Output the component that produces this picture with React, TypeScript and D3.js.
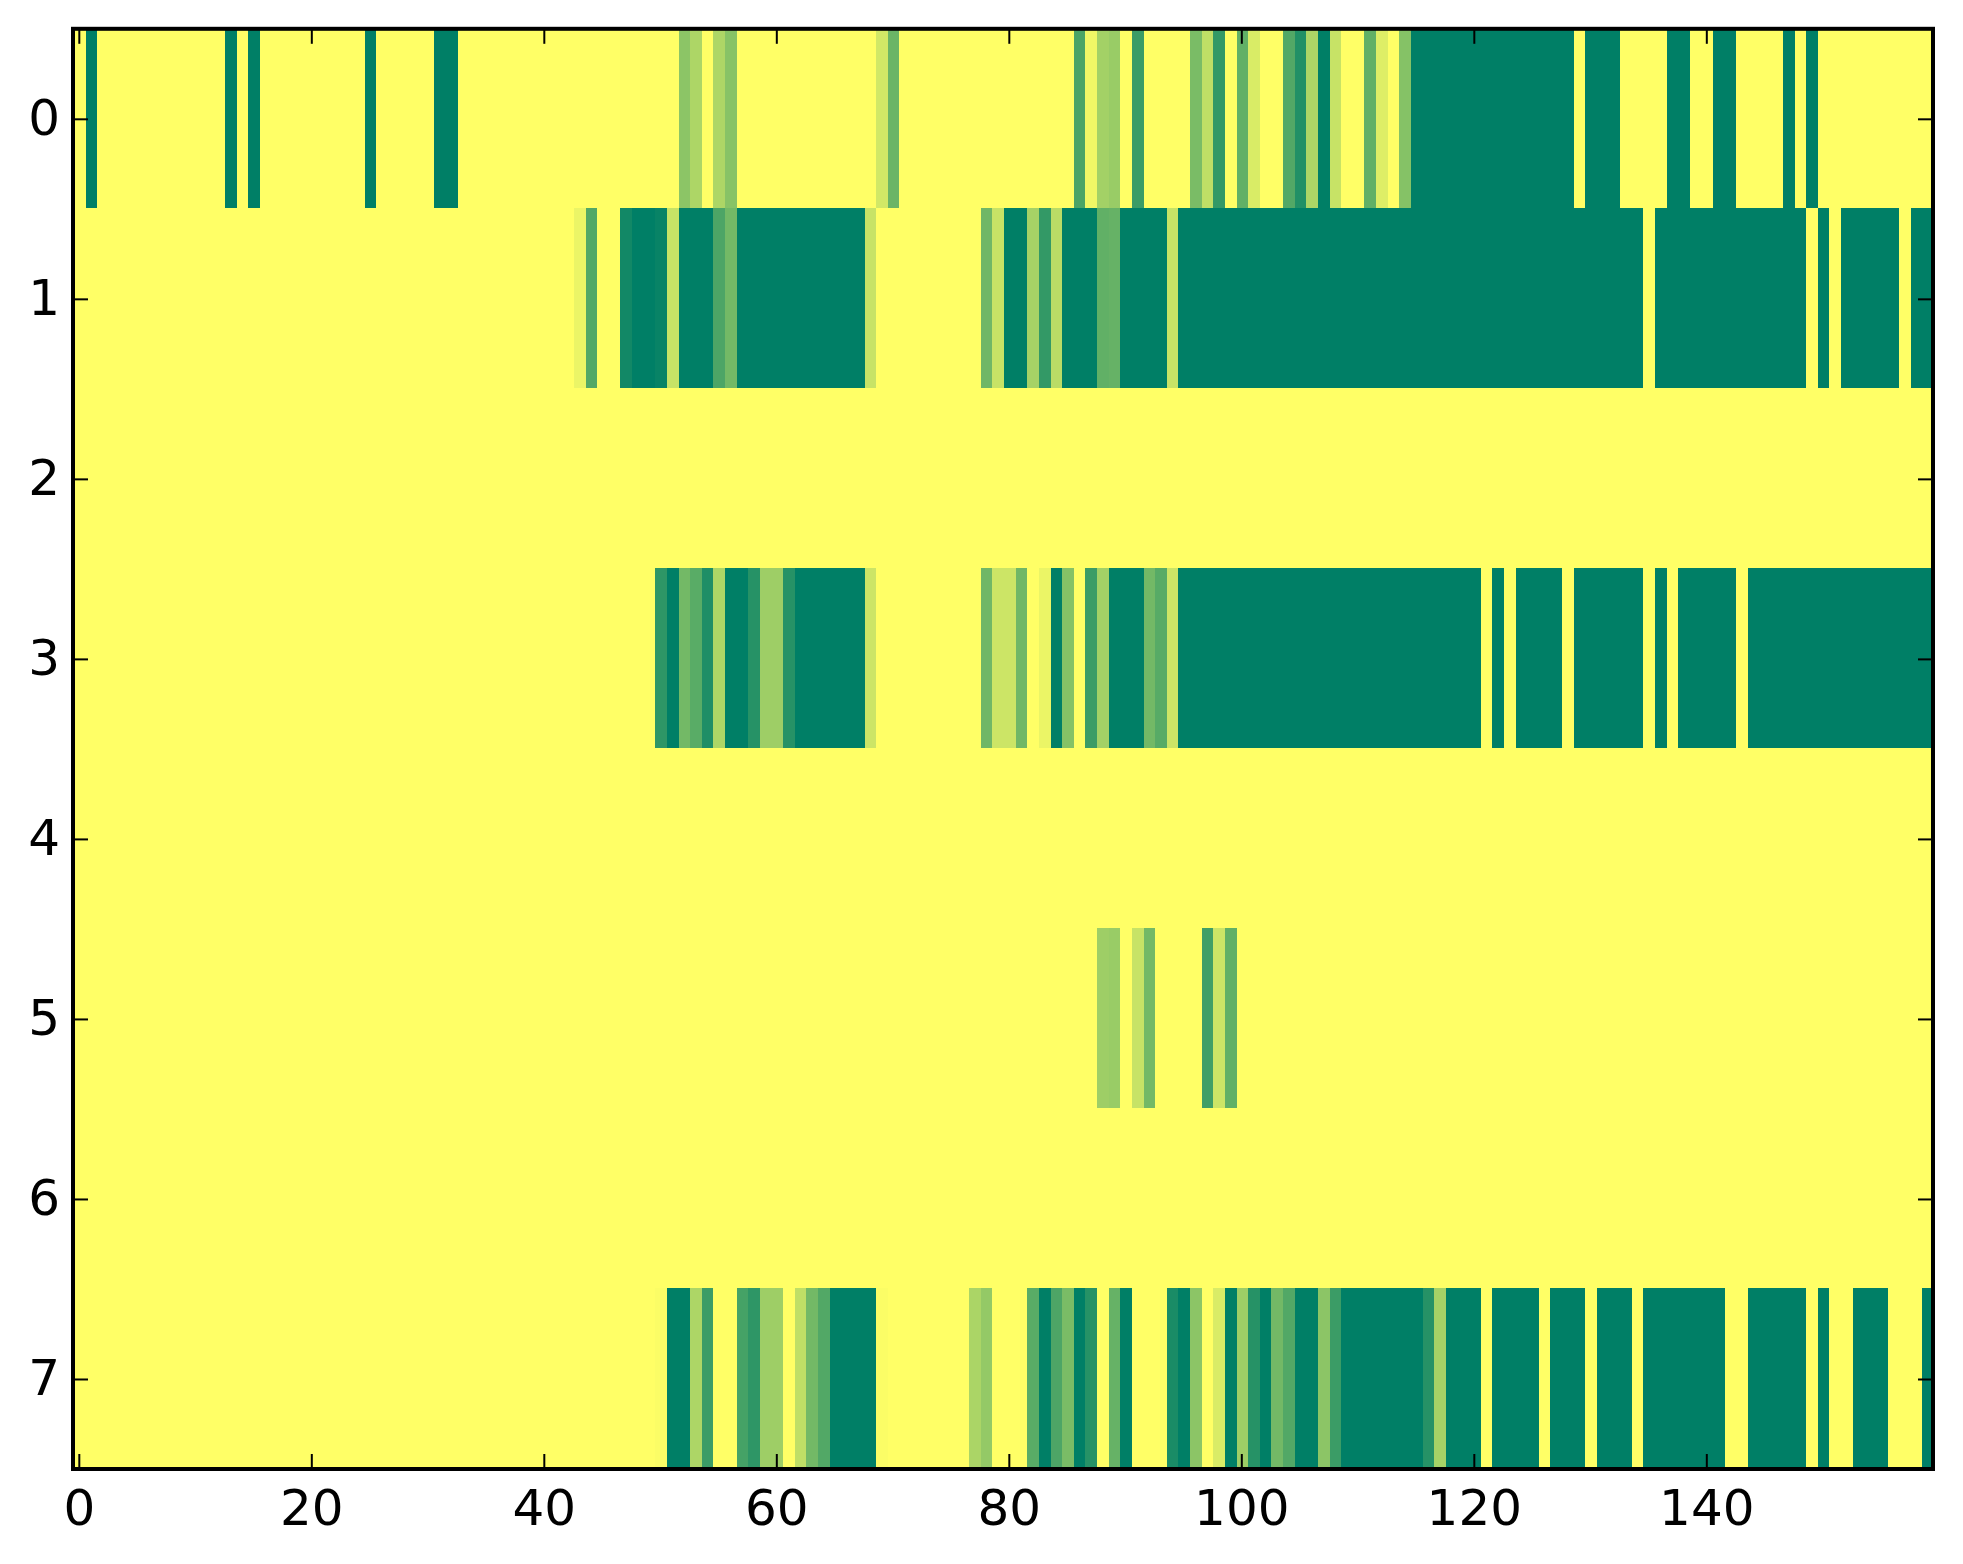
import { useRef, useEffect } from "react";
import * as d3 from "d3";

type Run = [number, number, number]; // first column, last column, value

const xTicks = [0, 20, 40, 60, 80, 100, 120, 140];
const yTicks = [0, 1, 2, 3, 4, 5, 6, 7];
const columnCount = 160;

// Runs of non zero cells
const row0: Run[] = [
  [1, 1, 1], [13, 13, 1], [15, 15, 1], [25, 25, 1], [31, 32, 1],
  [52, 52, 0.45], [53, 53, 0.32], [55, 55, 0.32], [56, 56, 0.47],
  [69, 69, 0.18], [70, 70, 0.58],
  [86, 86, 0.71], [87, 87, 0.06], [88, 88, 0.36], [89, 89, 0.4], [91, 91, 0.77],
  [96, 96, 0.52], [97, 97, 0.25], [98, 98, 0.8], [100, 100, 0.62], [101, 101, 0.15],
  [104, 104, 0.68], [105, 105, 0.87], [106, 106, 0.32], [107, 107, 1], [108, 108, 0.22],
  [111, 111, 0.62], [112, 112, 0.13], [114, 114, 0.48],
  [115, 128, 1], [130, 132, 1], [137, 138, 1], [141, 142, 1], [147, 147, 1], [149, 149, 1],
];
const row1: Run[] = [
  [43, 43, 0.08], [44, 44, 0.68], [47, 47, 0.93], [48, 49, 1], [50, 50, 0.97], [51, 51, 0.22],
  [52, 54, 1], [55, 55, 0.7], [56, 56, 0.55], [57, 67, 1], [68, 68, 0.22],
  [78, 78, 0.56], [79, 79, 0.22], [80, 81, 1], [82, 82, 0.35], [83, 83, 0.8], [84, 84, 0.27],
  [85, 87, 1], [88, 88, 0.62], [89, 89, 0.6], [90, 93, 1], [94, 94, 0.22],
  [95, 134, 1], [136, 148, 1], [150, 150, 1], [152, 156, 1], [158, 159, 1],
];
const row2: Run[] = [];
const row3: Run[] = [
  [50, 50, 0.82], [51, 51, 1], [52, 52, 0.55], [53, 53, 0.65], [54, 54, 0.88], [55, 55, 0.32],
  [56, 57, 1], [58, 58, 0.85], [59, 60, 0.38], [61, 61, 0.85], [62, 67, 1], [68, 68, 0.2],
  [78, 78, 0.56], [79, 80, 0.2], [81, 81, 0.56], [83, 83, 0.08], [84, 84, 1], [85, 85, 0.48],
  [87, 87, 0.77], [88, 88, 0.36], [89, 91, 1], [92, 92, 0.55], [93, 93, 0.66], [94, 94, 0.2],
  [95, 120, 1], [122, 122, 1], [124, 127, 1], [129, 134, 1], [136, 136, 1], [138, 142, 1], [144, 159, 1],
];
const row4: Run[] = [];
const row5: Run[] = [
  [88, 88, 0.38], [89, 89, 0.4], [91, 91, 0.22], [92, 92, 0.55],
  [97, 97, 0.75], [98, 98, 0.2], [99, 99, 0.62],
];
const row6: Run[] = [];
const row7: Run[] = [
  [50, 50, 0.015], [51, 52, 1], [53, 53, 0.32], [54, 54, 0.77], [57, 57, 0.73], [58, 58, 0.82],
  [59, 60, 0.38], [62, 62, 0.25], [63, 63, 0.55], [64, 64, 0.68], [65, 68, 1], [69, 69, 0.015],
  [77, 77, 0.33], [78, 78, 0.42], [82, 82, 0.65], [83, 83, 1], [84, 84, 0.7], [85, 85, 0.52],
  [86, 86, 1], [87, 87, 0.85], [89, 89, 0.6], [90, 90, 1], [94, 94, 0.9], [95, 95, 1],
  [96, 96, 0.45], [98, 98, 0.15], [99, 99, 1], [100, 100, 0.38], [101, 101, 0.85], [102, 102, 1],
  [103, 103, 0.55], [104, 104, 0.68], [105, 106, 1], [107, 107, 0.45], [108, 108, 0.77],
  [109, 115, 1], [116, 116, 0.85], [117, 117, 0.35], [118, 120, 1], [122, 125, 1], [127, 129, 1],
  [131, 133, 1], [135, 141, 1], [144, 148, 1], [150, 150, 1], [153, 155, 1], [159, 159, 1],
];
const rows = [row0, row1, row2, row3, row4, row5, row6, row7];

export default function App() {
  const svgRef = useRef<SVGSVGElement>(null);

  useEffect(() => {
    if (!svgRef.current) return;

    const svg = d3.select(svgRef.current);
    svg.selectAll("*").remove();

    const left = 73;
    const right = 1933;
    const top = 28.8;
    const bottom = 1469;

    const x = d3.scaleLinear().domain([-0.5, columnCount - 0.5]).range([left, right]);
    const y = d3.scaleLinear().domain([-0.5, rows.length - 0.5]).range([top, bottom]);
    // The image sits about a pixel off the axes in the reference
    const cellX = x.copy().range([left + 1, right + 1]);
    const cellY = y.copy().range([top - 1, bottom - 1]);
    // summer_r
    const color = d3.scaleLinear<string>().domain([0, 1]).range(["#ffff66", "#007f66"]);

    // Background is the zero value, runs go on top
    svg
      .append("rect")
      .attr("x", left)
      .attr("y", top)
      .attr("width", right - left)
      .attr("height", bottom - top)
      .attr("fill", color(0));

    const cells = rows.flatMap((runs, row) =>
      runs.flatMap(([first, last, value]) =>
        d3.range(first, last + 1).map((col) => ({ row, col, value }))
      )
    );

    svg
      .append("g")
      .attr("shape-rendering", "crispEdges")
      .selectAll("rect")
      .data(cells)
      .enter()
      .append("rect")
      .attr("x", (d) => cellX(d.col - 0.5))
      .attr("y", (d) => cellY(d.row - 0.5))
      .attr("width", (d) => cellX(d.col + 0.5) - cellX(d.col - 0.5))
      .attr("height", (d) => cellY(d.row + 0.5) - cellY(d.row - 0.5))
      .attr("fill", (d) => color(d.value));

    // Ticks point inwards on all four sides
    const blank = () => "";
    const axes = [
      { axis: d3.axisBottom(x).tickValues(xTicks).tickSize(-15).tickPadding(20), at: `translate(0,${bottom})` },
      { axis: d3.axisTop(x).tickValues(xTicks).tickSize(-15).tickFormat(blank), at: `translate(0,${top})` },
      { axis: d3.axisLeft(y).tickValues(yTicks).tickSize(-15).tickPadding(13), at: `translate(${left},0)` },
      { axis: d3.axisRight(y).tickValues(yTicks).tickSize(-15).tickFormat(blank), at: `translate(${right},0)` },
    ];

    axes.forEach(({ axis, at }) => {
      const g = svg
        .append("g")
        .attr("transform", at)
        .call(axis as any);
      g.select(".domain").remove();
      g.selectAll(".tick line").attr("stroke", "#000").attr("stroke-width", 2);
      g.selectAll(".tick text")
        .attr("fill", "#000")
        .attr("font-family", "'DejaVu Sans'")
        .attr("font-size", 50);
    });

    // Frame
    svg
      .append("rect")
      .attr("x", left)
      .attr("y", top)
      .attr("width", right - left)
      .attr("height", bottom - top)
      .attr("fill", "none")
      .attr("stroke", "#000")
      .attr("stroke-width", 4);
  }, []);

  return (
    <svg
      ref={svgRef}
      width={1963}
      height={1564}
      style={{ position: "absolute", left: 0, top: 0, background: "#fff" }}
    />
  );
}
